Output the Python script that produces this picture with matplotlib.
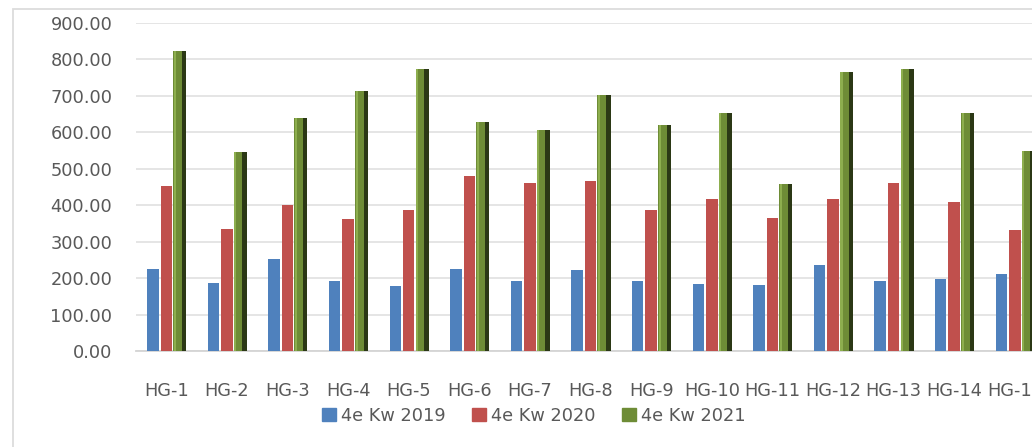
import matplotlib
matplotlib.use("Agg")
import matplotlib.pyplot as plt
import numpy as np
from matplotlib.patches import Rectangle, Patch

categories = ["HG-1", "HG-2", "HG-3", "HG-4", "HG-5", "HG-6", "HG-7", "HG-8",
              "HG-9", "HG-10", "HG-11", "HG-12", "HG-13", "HG-14", "HG-15"]
kw2019 = [225, 186, 252, 193, 178, 225, 192, 222, 192, 184, 180, 236, 193, 198, 211]
kw2020 = [454, 334, 400, 362, 387, 480, 461, 466, 387, 417, 364, 418, 462, 410, 333]
kw2021 = [823, 545, 640, 713, 774, 628, 606, 702, 620, 653, 457, 766, 775, 653, 549]
series_names = ["4e Kw 2019", "4e Kw 2020", "4e Kw 2021"]
yticks = [0, 100, 200, 300, 400, 500, 600, 700, 800, 900]

W, H = 1032, 447
fig = plt.figure(figsize=(W / 100, H / 100), dpi=100)
plt.rcParams['font.family'] = ['DejaVu Sans']
txt = "#595959"
fs = 12.8

# outer chart border (extends beyond the cropped picture)
fig.patches.append(Rectangle((13 / W, -0.2), 2.0, 1.2 - 9 / H,
                             transform=fig.transFigure, fill=False,
                             edgecolor="#dcdcdc", linewidth=1.3))

ax = fig.add_axes([136 / W, (H - 351) / H, 1 - 136 / W, 328 / H])
x = np.arange(len(categories))
bw = 0.19
off = 0.222

ax.bar(x - off, kw2019, width=bw, color="#4F81BD", zorder=3)
ax.bar(x, kw2020, width=bw, color="#C0504D", zorder=3)
gw = 0.215
ax.bar(x + off, kw2021, width=gw, color="#6E8C36", zorder=3)
# bevel shading on the green bars
ax.bar(x + off + gw * 0.33, kw2021, width=gw * 0.34, color="#2B3815", zorder=4)
ax.bar(x + off - gw * 0.38, kw2021, width=gw * 0.16, color="#8DAE4E", zorder=4)

ax.set_xlim(-0.5, -0.5 + (W - 135.5) / 60.64)
ax.set_ylim(0, 900)
ax.set_yticks(yticks)
ax.set_yticklabels([f"{v:.2f}" for v in yticks], fontsize=fs, color=txt)
ax.set_xticks(x)
ax.set_xticklabels(categories, fontsize=fs, color=txt)
for lab in ax.get_xticklabels():
    lab.set_clip_on(False)
ax.tick_params(axis="both", length=0)
ax.tick_params(axis="y", pad=17)
ax.tick_params(axis="x", pad=22)
ax.grid(axis="y", color="#dedede", linewidth=1.1, zorder=0)
for s in ["top", "right", "left"]:
    ax.spines[s].set_visible(False)
ax.spines["bottom"].set_color("#d4d4d4")
ax.spines["bottom"].set_linewidth(1.3)
ax.set_facecolor("none")

handles = [Patch(color="#4F81BD"), Patch(color="#C0504D"), Patch(color="#6E8C36")]
fig.legend(handles, series_names, loc="center", bbox_to_anchor=(534 / W, 1 - 416 / H),
           ncol=3, frameon=False, fontsize=fs, labelcolor=txt,
           handlelength=0.75, handleheight=0.75, handletextpad=0.3,
           columnspacing=1.5, borderpad=0)

fig.savefig("out.png", dpi=100)
